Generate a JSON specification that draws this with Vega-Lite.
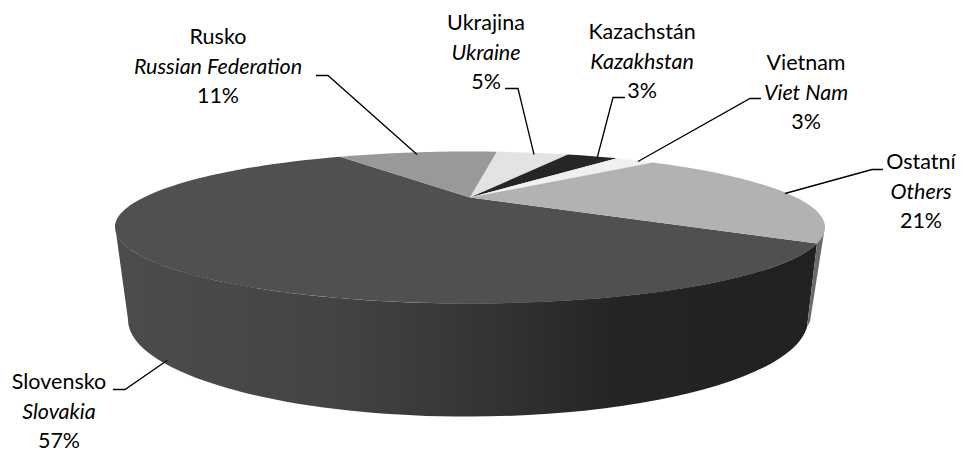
{"$schema":"https://vega.github.io/schema/vega-lite/v6.json","width":962,"height":452,"padding":0,"autosize":{"type":"fit","contains":"padding"},"background":"white","config":{"view":{"stroke":null}},
"data":{"values":[
{"order":1,"cesky":"Slovensko","english":"Slovakia","share":0.57},
{"order":2,"cesky":"Rusko","english":"Russian Federation","share":0.11},
{"order":3,"cesky":"Ukrajina","english":"Ukraine","share":0.05},
{"order":4,"cesky":"Kazachstán","english":"Kazakhstan","share":0.03},
{"order":5,"cesky":"Vietnam","english":"Viet Nam","share":0.03},
{"order":6,"cesky":"Ostatní","english":"Others","share":0.21}]},
"resolve":{"scale":{"shape":"independent"}},
"layer":[
{"transform":[{"filter":"datum.order==1"}],"mark":{"type":"point","filled":true,"opacity":1,"size":4,"strokeWidth":0,"shape":"M-365,7 L-353,94 A340,97 0 0 0 326,101.5 L336,18.1 A355,76 0 0 1 -365,7 Z","fill":{"gradient":"linear","x1":0,"y1":0,"x2":1,"y2":0,"stops":[{"offset":0,"color":"#4c4c4c"},{"offset":0.3,"color":"#444444"},{"offset":0.5,"color":"#363636"},{"offset":0.72,"color":"#242424"},{"offset":1,"color":"#212121"}]}},"encoding":{}},
{"transform":[{"filter":"datum.order==6"}],"mark":{"type":"point","filled":true,"opacity":1,"size":4,"strokeWidth":0,"fill":"#6a6a6a","shape":"M343,7 L336,18.1 L326,101.5 L329,96 Z"},"encoding":{}},
{"mark":{"type":"point","filled":true,"opacity":1,"size":4,"strokeWidth":0},"encoding":{
"fill":{"field":"cesky","type":"nominal","legend":null,"scale":{"domain":["Slovensko","Rusko","Ukrajina","Kazachstán","Vietnam","Ostatní"],"range":["#505050","#999999","#e3e3e3","#262626","#f0f0f0","#b2b2b2"]}},
"shape":{"field":"cesky","type":"nominal","legend":null,"scale":{"domain":["Slovensko","Rusko","Ukrajina","Kazachstán","Vietnam","Ostatní"],"range":[
"M-11,-28 L336,18.1 A355,76 0 1 1 -141,-68.7 Z",
"M-11,-28 L-141,-68.7 A355,76 0 0 1 16,-73.8 Z",
"M-11,-28 L16,-73.8 A355,76 0 0 1 87,-71 Z",
"M-11,-28 L87,-71 A355,76 0 0 1 136,-67.2 Z",
"M-11,-28 L136,-67.2 A355,76 0 0 1 172,-63.1 Z",
"M-11,-28 L172,-63.1 A355,76 0 0 1 336,18.1 Z"]}}}},
{"mark":{"type":"point","filled":false,"opacity":1,"size":4,"stroke":"#000000","strokeWidth":1.3},"encoding":{
"shape":{"field":"cesky","type":"nominal","legend":null,"scale":{"domain":["Slovensko","Rusko","Ukrajina","Kazachstán","Vietnam","Ostatní"],"range":[
"M-368,164 L-356,164 L-314,135",
"M-165,-150 L-153,-150 L-64,-71",
"M24,-137 L37,-137 L53,-71",
"M144,-128 L132,-128 L116,-67",
"M280,-127 L269,-127 L157,-64",
"M402,-56 L391,-56 L304,-32"]}}}},
{"layer":[
{"mark":{"type":"text","font":"Lato","fontSize":21.5,"color":"#000000","baseline":"middle","align":"center","dy":-30},"encoding":{"text":{"field":"cesky","type":"nominal"}}},
{"mark":{"type":"text","font":"Lato","fontSize":21.5,"fontStyle":"italic","color":"#000000","baseline":"middle","align":"center"},"encoding":{"text":{"field":"english","type":"nominal"}}},
{"mark":{"type":"text","font":"Lato","fontSize":21.5,"color":"#000000","baseline":"middle","align":"center","dy":29},"encoding":{"text":{"field":"share","type":"quantitative","format":".0%"}}}],
"encoding":{
"x":{"field":"order","type":"quantitative","axis":null,"scale":{"domain":[1,2,3,4,5,6],"range":[59,218,486,642,806,921]}},
"y":{"field":"order","type":"quantitative","axis":null,"scale":{"domain":[1,2,3,4,5,6],"range":[413,68,54,63,94,193]}}}}
]}
